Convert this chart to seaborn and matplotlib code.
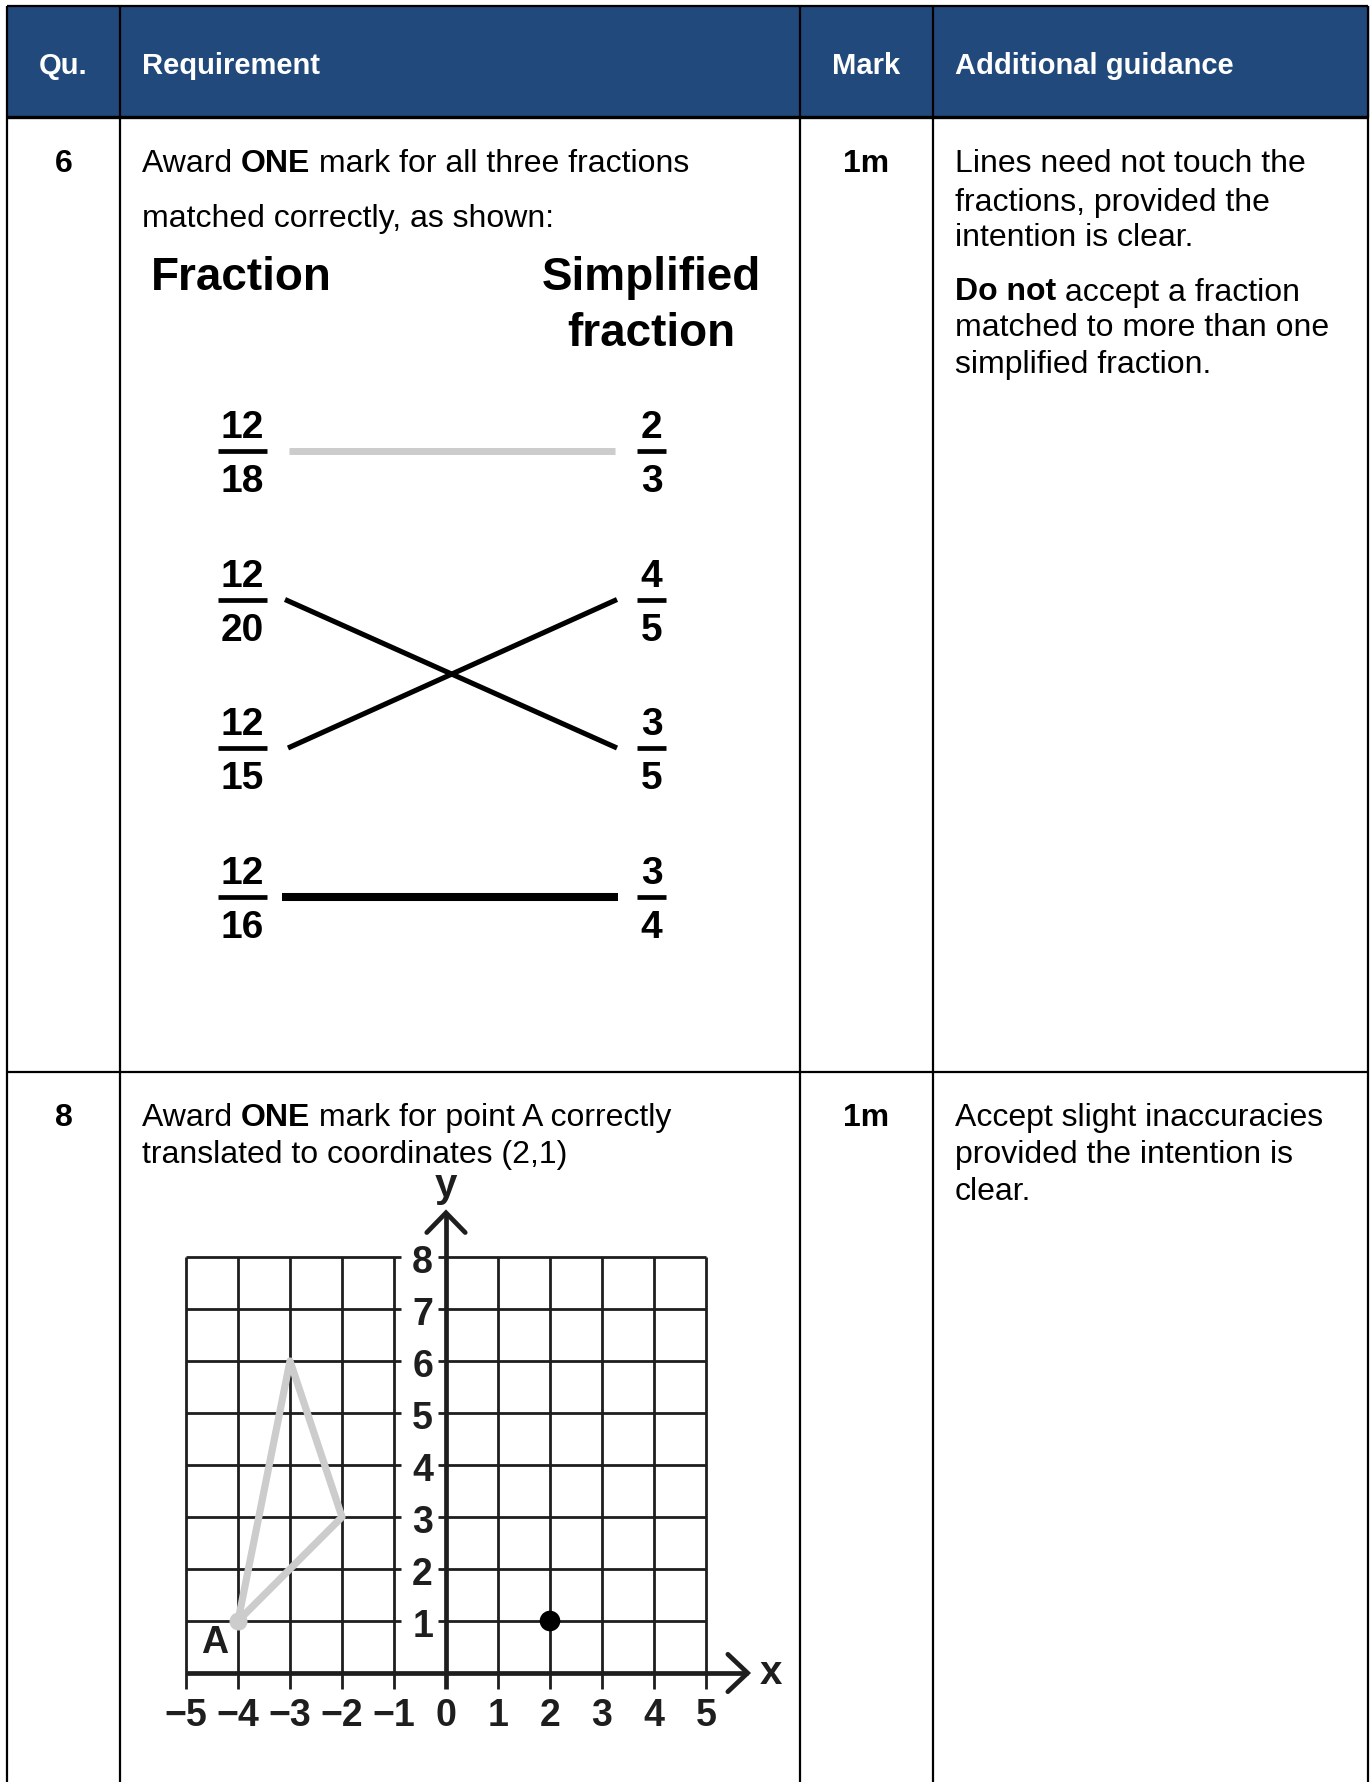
import matplotlib
matplotlib.use("Agg")
import matplotlib.pyplot as plt
import seaborn as sns
import pandas as pd

# ---------------- data ----------------
columns = ["Qu.", "Requirement", "Mark", "Additional guidance"]
questions = ["6", "8"]
marks = ["1m", "1m"]
req_q6 = [[("Award ", False), ("ONE", True), (" mark for all three fractions", False)],
          [("matched correctly, as shown:", False)]]
guide_q6 = [[("Lines need not touch the", False)],
            [("fractions, provided the", False)],
            [("intention is clear.", False)],
            [("Do not", True), (" accept a fraction", False)],
            [("matched to more than one", False)],
            [("simplified fraction.", False)]]
req_q8 = [[("Award ", False), ("ONE", True), (" mark for point A correctly", False)],
          [("translated to coordinates (2,1)", False)]]
guide_q8 = [[("Accept slight inaccuracies", False)],
            [("provided the intention is", False)],
            [("clear.", False)]]

left_num = [12, 12, 12, 12]
left_den = [18, 20, 15, 16]
right_num = [2, 4, 3, 3]
right_den = [3, 5, 5, 4]
match_left = [0, 1, 2, 3]
match_right = [0, 2, 1, 3]
match_color = ["#cccccc", "black", "black", "black"]

x_ticks = [-5, -4, -3, -2, -1, 0, 1, 2, 3, 4, 5]
y_ticks = [1, 2, 3, 4, 5, 6, 7, 8]
tri_x = [-4, -3, -2, -4]
tri_y = [1, 6, 3, 1]
point_x = [2]
point_y = [1]

# ---------------- figure ----------------
sns.set_theme(style="white")
plt.rcParams["font.family"] = ["Liberation Sans", "DejaVu Sans"]
plt.rcParams["text.color"] = "black"

W, H = 1371, 1783
fig = plt.figure(figsize=(W / 100, H / 100), dpi=100)
ax = fig.add_axes([0, 0, 1, 1])
ax.set_xlim(0, W)
ax.set_ylim(H, 0)
ax.axis("off")
renderer = fig.canvas.get_renderer()

BLUE = "#21497C"
L, R, TOP = 7, 1368, 7
HB = 118
ROW1 = 1073
C1, C2, C3 = 120, 800, 933
DY = 3.5  # text vertical correction

ax.add_patch(plt.Rectangle((L, TOP), R - L, HB - TOP, color=BLUE, zorder=0))
lw = 1.6
for xv in [L, C1, C2, C3, R]:
    ax.plot([xv, xv], [TOP, H], color="black", lw=lw, zorder=2, solid_capstyle="butt")
ax.plot([L, R], [TOP, TOP], color="black", lw=lw, zorder=2, solid_capstyle="butt")
ax.plot([L, R], [HB, HB], color="black", lw=2.4, zorder=2, solid_capstyle="butt")
ax.plot([L, R], [ROW1, ROW1], color="black", lw=lw, zorder=2, solid_capstyle="butt")

HFS = 21
BFS = 23
hy = 63 + 2.5
ax.text((L + C1) / 2, hy, columns[0], color="white", fontsize=HFS, fontweight="bold", ha="center", va="center")
ax.text(142, hy, columns[1], color="white", fontsize=HFS, fontweight="bold", ha="left", va="center")
ax.text((C2 + C3) / 2, hy, columns[2], color="white", fontsize=HFS, fontweight="bold", ha="center", va="center")
ax.text(955, hy, columns[3], color="white", fontsize=HFS, fontweight="bold", ha="left", va="center")


def runs(x, y, parts, size=BFS):
    for txt, bold in parts:
        t = ax.text(x, y + DY, txt, fontsize=size, fontweight="bold" if bold else "normal",
                    ha="left", va="center", color="black")
        bb = t.get_window_extent(renderer=renderer)
        x += bb.width


def ctext(x, y, s, size=BFS, bold=True, ha="center"):
    ax.text(x, y + DY, s, fontsize=size, fontweight="bold" if bold else "normal",
            ha=ha, va="center", color="black")


# row 1
ctext((L + C1) / 2, 161, questions[0])
ctext((C2 + C3) / 2, 161, marks[0])
for parts, y in zip(req_q6, [161, 215]):
    runs(142, y, parts)
for parts, y in zip(guide_q6, [161, 199, 235, 289, 325, 361]):
    runs(955, y, parts)

# fraction diagram
ctext(151, 275, "Fraction", size=33, ha="left")
ctext(651, 275, "Simplified", size=33)
ctext(651, 331, "fraction", size=33)

row_y = [452 + i * 148.5 for i in range(4)]
LX, RX = 242.5, 651.5
for i in range(4):
    y = row_y[i]
    ax.plot([218, 267], [y, y], color="black", lw=3.4, solid_capstyle="butt")
    ctext(LX, y - 27, str(left_num[i]), size=28)
    ctext(LX, y + 27, str(left_den[i]), size=28)
    ax.plot([637, 666], [y, y], color="black", lw=3.4, solid_capstyle="butt")
    ctext(RX, y - 27, str(right_num[i]), size=28)
    ctext(RX, y + 27, str(right_den[i]), size=28)

# line end positions (layout) and widths (style)
line_x0 = [289, 285, 288, 282]
line_x1 = [615, 617, 617, 618]
line_w = [5.0, 3.7, 3.7, 5.8]
match_df = pd.DataFrame({
    "x": sum([[a, b] for a, b in zip(line_x0, line_x1)], []),
    "y": sum([[row_y[a], row_y[b]] for a, b in zip(match_left, match_right)], []),
    "pair": sum([[k, k] for k in range(len(match_left))], []),
})
for k in range(len(match_left)):
    sub = match_df[match_df["pair"] == k]
    n0 = len(ax.lines)
    sns.lineplot(data=sub, x="x", y="y", ax=ax, color=match_color[k],
                 sort=False, estimator=None, legend=False)
    for ln in ax.lines[n0:]:
        ln.set_linewidth(line_w[k])
        ln.set_solid_capstyle("butt")
ax.set_xlim(0, W)
ax.set_ylim(H, 0)
ax.set_xlabel("")
ax.set_ylabel("")

# row 2
ctext((L + C1) / 2, 1115, questions[1])
ctext((C2 + C3) / 2, 1115, marks[1])
for parts, y in zip(req_q8, [1115, 1152]):
    runs(142, y, parts)
for parts, y in zip(guide_q8, [1115, 1152, 1189]):
    runs(955, y, parts)

# coordinate grid axes: 1 unit = 52 px, origin at (446, 1674)
U = 52.0
OX, OY = 446.0, 1674.0
xmin, xmax, ymin, ymax = -5.8, 6.8, -1.3, 9.8
left_px = OX + xmin * U
right_px = OX + xmax * U
bot_px = OY - ymin * U
top_px = OY - ymax * U
gax = fig.add_axes([left_px / W, (H - bot_px) / H, (right_px - left_px) / W, (bot_px - top_px) / H])
gax.set_xlim(xmin, xmax)
gax.set_ylim(ymin, ymax)
gax.axis("off")

GC = "#1e1e1e"
glw = 2.0
for xv in x_ticks:
    if xv == 0:
        continue
    gax.plot([xv, xv], [-0.3, 8], color=GC, lw=glw, solid_capstyle="butt")
for yv in y_ticks:
    gax.plot([-5, -0.87], [yv, yv], color=GC, lw=glw, solid_capstyle="butt")
    gax.plot([-0.15, 5], [yv, yv], color=GC, lw=glw, solid_capstyle="butt")
alw = 3.4
gax.plot([-5, 5.8], [0, 0], color=GC, lw=alw, solid_capstyle="butt")
gax.plot([0, 0], [-0.3, 8.85], color=GC, lw=alw, solid_capstyle="butt")
gax.plot([-0.37, 0, 0.37], [8.47, 8.85, 8.47], color=GC, lw=alw, solid_joinstyle="miter")
gax.plot([5.42, 5.8, 5.42], [0.36, 0, -0.36], color=GC, lw=alw, solid_joinstyle="miter")
gax.text(0, 9.38, "y", fontsize=29, fontweight="bold", ha="center", va="center", color=GC)
gax.text(6.25, 0.02, "x", fontsize=29, fontweight="bold", ha="center", va="center", color=GC)

for xv in x_ticks:
    lab = str(xv).replace("-", "\u2212")
    gax.text(xv, -0.8, lab, fontsize=27, fontweight="bold", ha="center", va="center", color=GC)
for yv in y_ticks:
    gax.text(-0.45, yv - 0.1, str(yv), fontsize=27, fontweight="bold", ha="center", va="center", color=GC)

tri_df = pd.DataFrame({"x": tri_x, "y": tri_y})
n0 = len(gax.lines)
sns.lineplot(data=tri_df, x="x", y="y", ax=gax, color="#cccccc", sort=False,
             estimator=None, legend=False, zorder=5)
for ln in gax.lines[n0:]:
    ln.set_linewidth(5.2)
    ln.set_solid_joinstyle("round")
    ln.set_solid_capstyle("round")
gax.plot([tri_x[0]], [tri_y[0]], "o", color="#cccccc", ms=12, zorder=5)
gax.text(-4.45, 0.6, "A", fontsize=27, fontweight="bold", ha="center", va="center", color=GC)

pt_df = pd.DataFrame({"x": point_x, "y": point_y})
sns.scatterplot(data=pt_df, x="x", y="y", ax=gax, color="black", s=220, edgecolor="none", zorder=6, legend=False)
gax.set_xlim(xmin, xmax)
gax.set_ylim(ymin, ymax)
gax.axis("off")

fig.savefig("out.png", dpi=100)
